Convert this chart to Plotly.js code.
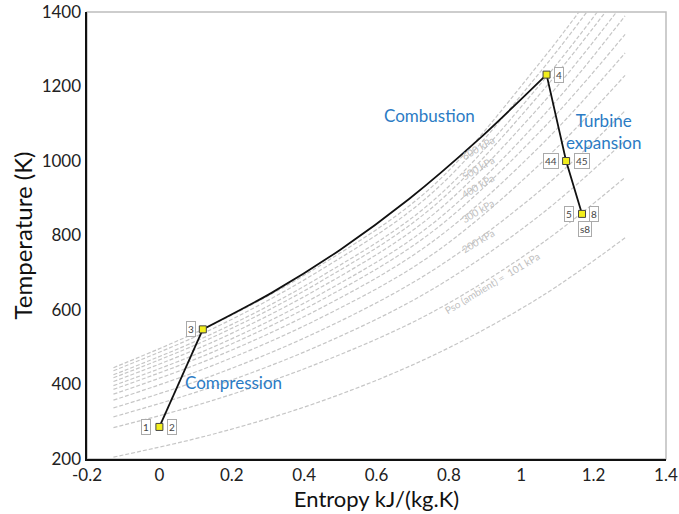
<!DOCTYPE html>
<html>
<head>
<meta charset="utf-8">
<script src="https://cdn.plot.ly/plotly-3.0.1.min.js"></script>
<style>html,body{margin:0;padding:0;background:#fff;}#chart{width:679px;height:514px;}</style>
</head>
<body>
<div id="chart"></div>
<script>
// Entropy grid (kJ/kg.K) at which isobar temperatures were read
const isoS = [-0.127, 0.15, 0.45, 0.75, 1.05, 1.287];
// Isobar temperatures (K), bottom to top
const iso01 = [205, 267, 356, 475, 633, 794];
const iso02 = [284, 358, 461, 592, 774, 956];
const iso03 = [313, 395, 508, 653, 853, 1055];
const iso04 = [337, 425, 547, 703, 919, 1135];
const iso05 = [358, 452, 581, 746, 990, 1230];
const iso06 = [374, 472, 607, 780, 1038, 1290];
const iso07 = [387, 488, 628, 807, 1077, 1340];
const iso08 = [397, 501, 645, 828, 1110, 1390];
const iso09 = [408, 515, 663, 851, 1145, 1430];
const iso10 = [418, 528, 679, 872, 1178, 1470];
const iso11 = [426, 538, 692, 888, 1203, 1500];
const iso12 = [437, 551, 710, 911, 1236, 1540];
const iso13 = [445, 562, 723, 928, 1262, 1570];

// Cycle state points
const compS = [0, 0.12];
const compT = [286, 548];
const combS = [0.12, 0.31, 0.5, 0.69, 0.88, 1.07];
const combT = [548, 646, 762, 898, 1056, 1232];
const turbS = [1.07, 1.124, 1.168];
const turbT = [1232, 1000, 858];
const ptS = [0, 0.12, 1.07, 1.124, 1.168];
const ptT = [286, 548, 1232, 1000, 858];

// Point labels
const lblText = ['1', '2', '3', '4', '44', '45', '5', '8', 's8'];
const lblS = [0, 0, 0.12, 1.07, 1.124, 1.124, 1.168, 1.168, 1.168];
const lblT = [286, 286, 548, 1232, 1000, 1000, 858, 858, 858];
const lblDx = [-13, 13, -12, 12, -15, 16, -13, 12, 3];
const lblDy = [0, 0, 0, 0, 0, 0, 0, 0, -15];

// Isobar labels
const isoLbl = ['Pso (ambient) =  101 kPa', '200 kPa', '300 kPa', '400 kPa', '500 kPa', '600 kPa'];
const isoLblS = [0.92, 0.88, 0.88, 0.88, 0.88, 0.88];
const isoLblT = [672, 786, 866, 932, 982, 1036];

// Region labels
const regText = ['Combustion', 'Turbine<br>expansion', 'Compression'];
const regS = [0.746, 1.227, 0.204];
const regT = [1121, 1079, 405];

const xTicks = [-0.2, 0, 0.2, 0.4, 0.6, 0.8, 1, 1.2, 1.4];
const xTickText = ['-0.2', '0', '0.2', '0.4', '0.6', '0.8', '1', '1.2', '1.4'];
const yTicks = [200, 400, 600, 800, 1000, 1200, 1400];

const isobars = [iso01, iso02, iso03, iso04, iso05, iso06, iso07, iso08, iso09, iso10, iso11, iso12, iso13];
const traces = isobars.map(t => ({
  x: isoS, y: t, mode: 'lines', hoverinfo: 'skip', showlegend: false,
  line: {color: '#c6c6c6', width: 1.2, dash: '4px,2px', shape: 'spline'}
}));
traces.push({x: compS, y: compT, mode: 'lines', showlegend: false, line: {color: '#111', width: 1.8}});
traces.push({x: combS, y: combT, mode: 'lines', showlegend: false, line: {color: '#111', width: 1.8, shape: 'spline', smoothing: 0.8}});
traces.push({x: turbS, y: turbT, mode: 'lines', showlegend: false, line: {color: '#111', width: 1.8}});
traces.push({x: ptS, y: ptT, mode: 'markers', showlegend: false,
  marker: {symbol: 'square', size: 7, color: '#f2ee1c', line: {color: '#444', width: 1}}});

const font = 'Lato, "Open Sans", sans-serif';
const annotations = [];
lblText.forEach((t, i) => annotations.push({
  x: lblS[i], y: lblT[i], text: t, showarrow: false, xshift: lblDx[i], yshift: lblDy[i],
  font: {family: font, size: 10, color: '#444'}, bgcolor: '#fff', bordercolor: '#aaa', borderwidth: 1, borderpad: 1
}));
isoLbl.forEach((t, i) => annotations.push({
  x: isoLblS[i], y: isoLblT[i], text: t, showarrow: false, textangle: -31,
  font: {family: font, size: 10, color: '#c0c0c0'}
}));
regText.forEach((t, i) => annotations.push({
  x: regS[i], y: regT[i], text: t, showarrow: false,
  font: {family: font, size: 17, color: '#2b7bc4'}
}));

const layout = {
  width: 679, height: 514,
  margin: {l: 87, r: 13, t: 12, b: 55},
  paper_bgcolor: '#fff', plot_bgcolor: '#fff',
  font: {family: font, color: '#222'},
  xaxis: {
    range: [-0.2001, 1.4001], tickmode: 'array', tickvals: xTicks, ticktext: xTickText, showgrid: false, zeroline: false,
    showline: true, linecolor: '#111', linewidth: 2, ticks: '', ticklen: 0,
    tickfont: {size: 17, color: '#222'},
    title: {text: 'Entropy kJ/(kg.K)', font: {size: 22, color: '#111'}, standoff: 4}
  },
  yaxis: {
    range: [199.9, 1400.1], tickmode: 'array', tickvals: yTicks, showgrid: false, zeroline: false,
    showline: true, linecolor: '#111', linewidth: 2.5, ticks: '', ticklen: 0,
    tickfont: {size: 17, color: '#222'},
    title: {text: 'Temperature (K)', font: {size: 24, color: '#111'}, standoff: 2}
  },
  shapes: [{type: 'rect', xref: 'paper', yref: 'paper', x0: 0, y0: 0, x1: 1, y1: 1,
    line: {color: '#bdbdbd', width: 1.5}, layer: 'below'}],
  annotations: annotations
};

Plotly.newPlot('chart', traces, layout, {displayModeBar: false, staticPlot: true});
</script>
</body>
</html>
